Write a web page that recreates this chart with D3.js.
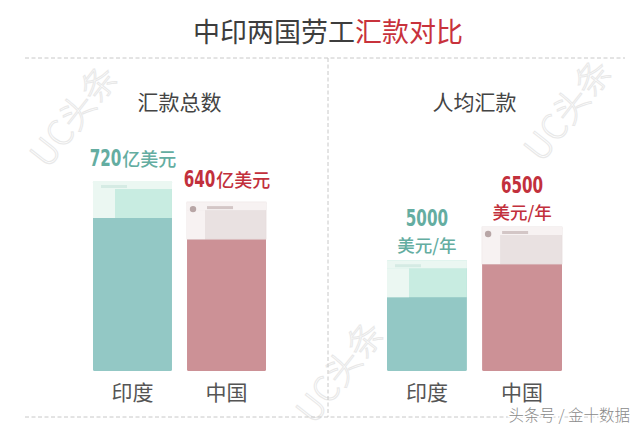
<!DOCTYPE html>
<html>
<head>
<meta charset="utf-8">
<script src="https://cdn.jsdelivr.net/npm/d3@7.9.0/dist/d3.min.js"></script>
<style>
  html, body { margin: 0; padding: 0; background: #fff; }
  svg { display: block; }
  .cjk { font-family: "Noto Sans CJK SC", "Noto Sans", sans-serif; }
  .num { font-family: "DejaVu Sans", sans-serif; font-weight: bold; }
</style>
</head>
<body>
<svg id="chart"></svg>
<script>
// data
const countries       = ['印度', '中国'];
const totalValues     = [720, 640];     // 亿美元
const perCapitaValues = [5000, 6500];   // 美元/年
const panelTitles     = ['汇款总数', '人均汇款'];
const panelUnits      = ['亿美元', '美元/年'];

const W = 640, H = 426;
const baseY   = 371;   // bottom of the bars
const capH    = 37;    // pale "screenshot" cap on every bar
const divX    = 328;
const lineTop = 58, lineBottom = 417;
const squeeze = 0.66;  // the original digits are a condensed face
const digitW  = 23 * 0.696 * squeeze;

const barColor  = { '印度': '#93c8c5', '中国': '#cc9196' };
const capColor  = { '印度': '#c8ece1', '中国': '#e9e1e1' };
const paleColor = { '印度': '#ebf7f2', '中国': '#f7f2f2' };
const textColor = { '印度': '#64ada1', '中国': '#c2303c' };

const svg = d3.select('#chart').attr('width', W).attr('height', H);

// faint watermarks first so everything sits on top
const marks = [[74, 116], [568, 110], [340, 372]];
svg.append('g').selectAll('text')
  .data(marks)
  .join('text')
    .attr('class', 'cjk')
    .attr('transform', d => `translate(${d[0]},${d[1]}) rotate(-52)`)
    .attr('text-anchor', 'middle')
    .attr('dy', '0.35em')
    .attr('font-size', 35)
    .attr('font-weight', 300)
    .attr('fill', 'none')
    .attr('stroke', '#e8e8e8')
    .attr('stroke-width', 1)
    .text('UC头条');

// title
const title = svg.append('text')
  .attr('class', 'cjk')
  .attr('x', divX).attr('y', 42)
  .attr('text-anchor', 'middle')
  .attr('font-size', 27);
title.append('tspan').attr('fill', '#3d3d3d').text('中印两国劳工');
title.append('tspan').attr('fill', '#c8323c').text('汇款对比');

// dashed frame
const dash = svg.append('g')
  .attr('stroke', '#c8c8c8')
  .attr('stroke-width', 1)
  .attr('stroke-dasharray', '4,2.5');
dash.append('line').attr('x1', 25).attr('x2', 625).attr('y1', lineTop).attr('y2', lineTop);
dash.append('line').attr('x1', 25).attr('x2', 625).attr('y1', lineBottom).attr('y2', lineBottom);
dash.append('line').attr('x1', divX).attr('x2', divX).attr('y1', lineTop).attr('y2', lineBottom);

const panels = [
  { title: panelTitles[0], unit: panelUnits[0], values: totalValues,     range: [93, 266],  top: 181, twoLine: false },
  { title: panelTitles[1], unit: panelUnits[1], values: perCapitaValues, range: [387, 562], top: 227, twoLine: true }
];

panels.forEach(p => {
  const rows = countries.map((c, i) => ({ country: c, value: p.values[i] }));
  const x = d3.scaleBand().domain(countries).range(p.range).paddingInner(0.16).paddingOuter(0);
  const y = d3.scaleLinear().domain([0, d3.max(p.values)]).range([baseY, p.top]);
  const bw = x.bandwidth();
  const g = svg.append('g');

  g.append('text')
    .attr('class', 'cjk')
    .attr('x', (p.range[0] + p.range[1]) / 2).attr('y', 110)
    .attr('text-anchor', 'middle')
    .attr('font-size', 21)
    .attr('fill', '#444')
    .text(p.title);

  const bar = g.selectAll('g.bar')
    .data(rows)
    .join('g')
      .attr('class', 'bar')
      .attr('transform', d => `translate(${x(d.country)},0)`);

  bar.append('rect')
    .attr('y', d => y(d.value))
    .attr('width', bw)
    .attr('height', d => baseY - y(d.value))
    .attr('rx', 1.5)
    .attr('fill', d => barColor[d.country]);

  // pale cap, looks like a tiny faded screenshot
  bar.append('rect')
    .attr('y', d => y(d.value))
    .attr('width', bw)
    .attr('height', capH)
    .attr('fill', d => capColor[d.country])
    .attr('stroke', d => d.country === '中国' ? '#e6dcdc' : 'none')
    .attr('stroke-width', 0.8);
  bar.append('rect')
    .attr('y', d => y(d.value))
    .attr('width', bw)
    .attr('height', 8)
    .attr('fill', d => paleColor[d.country]);
  bar.append('rect')
    .attr('y', d => y(d.value) + 8)
    .attr('width', d => d.country === '中国' ? 18 : 22)
    .attr('height', capH - 8)
    .attr('fill', d => paleColor[d.country]);
  bar.filter(d => d.country === '中国').append('circle')
    .attr('cx', 6).attr('cy', d => y(d.value) + 7)
    .attr('r', 3.2)
    .attr('fill', '#b8a6a6');
  // the unreadable grey scribble in each cap
  bar.append('rect')
    .attr('x', d => d.country === '中国' ? 20 : 8)
    .attr('y', d => y(d.value) + 4)
    .attr('width', 26)
    .attr('height', 3)
    .attr('fill', d => d.country === '中国' ? '#d3c6c6' : '#d5ebe4');

  // category labels
  bar.append('text')
    .attr('class', 'cjk')
    .attr('x', bw / 2).attr('y', baseY + 29)
    .attr('text-anchor', 'middle')
    .attr('font-size', 21)
    .attr('fill', '#555')
    .text(d => d.country);

  // value labels
  const digits = (sel, x0, y0, size) => sel.append('text')
    .attr('class', 'num')
    .attr('transform', d => `translate(${x0(d)},${y0(d)}) scale(${squeeze},1)`)
    .attr('font-size', size)
    .attr('fill', d => textColor[d.country])
    .text(d => d.value);

  if (!p.twoLine) {
    const unitW = p.unit.length * 18;
    const left = d => bw / 2 - (String(d.value).length * digitW + unitW) / 2;
    digits(bar, left, d => y(d.value) - 15, 23);
    bar.append('text')
      .attr('class', 'cjk')
      .attr('x', d => left(d) + String(d.value).length * digitW + 1)
      .attr('y', d => y(d.value) - 15)
      .attr('font-size', 18)
      .attr('font-weight', 500)
      .attr('fill', d => textColor[d.country])
      .text(p.unit);
  } else {
    digits(bar, d => bw / 2 - String(d.value).length * digitW / 2, d => y(d.value) - 34, 23);
    bar.append('text')
      .attr('class', 'cjk')
      .attr('x', bw / 2).attr('y', d => y(d.value) - 8)
      .attr('text-anchor', 'middle')
      .attr('font-size', 17.5)
      .attr('font-weight', 500)
      .attr('fill', d => textColor[d.country])
      .text(p.unit);
  }
});

// source stamp, bottom right
svg.append('text')
  .attr('class', 'cjk')
  .attr('x', 630).attr('y', 421)
  .attr('text-anchor', 'end')
  .attr('font-size', 15.5)
  .attr('font-weight', 300)
  .attr('fill', '#8a8a8a')
  .attr('stroke', '#fff')
  .attr('stroke-width', 3)
  .attr('paint-order', 'stroke')
  .text('头条号 / 金十数据');
</script>
</body>
</html>
